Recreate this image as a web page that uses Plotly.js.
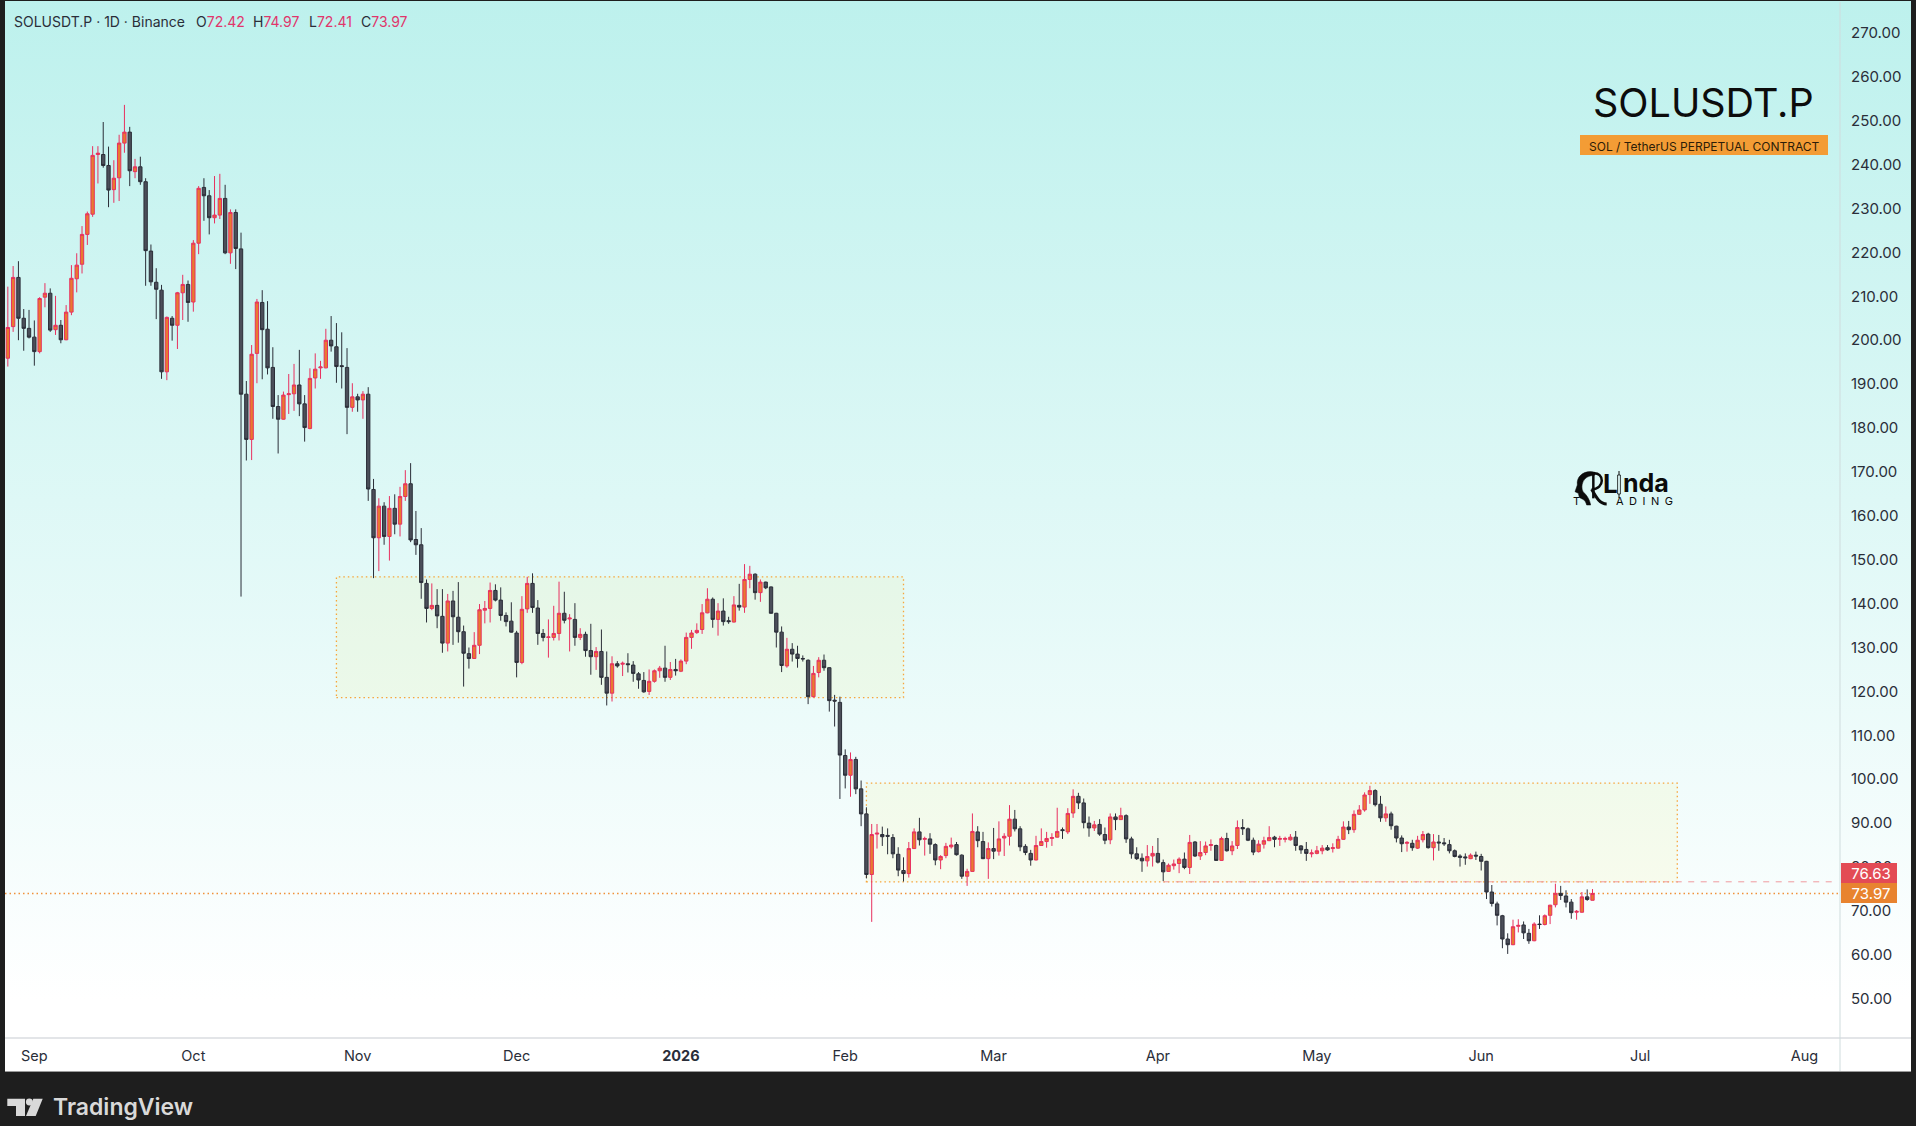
<!DOCTYPE html>
<html>
<head>
<meta charset="utf-8">
<title>SOLUSDT.P</title>
<script src="https://cdn.plot.ly/plotly-3.0.1.min.js"></script>
<style>
  html, body { margin: 0; padding: 0; background: #1e1e1e; overflow: hidden; }
  #panel { position: absolute; left: 5px; top: 1px; width: 1906px; height: 1070px;
           background: linear-gradient(to bottom, #bdf1ed 0px, #ffffff 1000px, #ffffff 1070px);
           border-bottom: 1px solid #9a9a9a; box-sizing: content-box; }
  #chart { position: absolute; left: 0; top: 0; width: 1916px; height: 1126px; }
</style>
</head>
<body>
<div id="panel"></div>
<div id="chart"></div>
<script>
// daily candles, first one is 2025-08-27
var firstDay = Date.UTC(2025, 7, 27);

var opens = [
195.9,203.1,214.3,205.0,202.7,200.7,197.4,209.8,210.7,202.4,
203.4,200.1,206.4,214.0,217.3,224.1,228.7,242.3,242.3,239.8,
234.3,237.0,244.9,247.4,238.4,239.5,236.1,220.3,213.2,211.4,
192.8,205.0,203.4,210.8,212.7,208.7,222.1,234.8,232.9,227.9,
228.5,232.3,219.9,229.1,220.8,187.7,177.4,197.0,208.6,202.5,
193.8,184.9,182.0,187.6,187.8,189.8,185.5,179.9,191.4,193.7,
193.7,200.0,198.5,194.2,193.8,184.7,187.1,186.4,187.7,166.0,
155.0,162.2,155.3,161.7,158.1,164.4,167.3,154.6,153.4,144.6,
138.9,139.6,137.1,131.0,140.6,136.9,133.6,128.6,127.5,130.5,
138.5,138.9,143.0,140.8,137.3,136.0,133.3,126.6,138.8,144.6,
139.0,133.2,132.3,132.3,133.2,137.8,136.5,136.4,132.3,133.0,
129.3,127.9,129.1,123.2,119.6,126.3,126.2,126.3,126.0,124.0,
122.5,120.0,122.3,124.7,125.3,123.2,125.0,124.6,126.9,132.3,
133.4,134.1,137.9,141.0,136.4,138.3,136.1,135.8,139.6,139.2,
145.5,146.7,142.5,144.9,143.8,137.8,133.5,125.8,129.6,128.5,
127.5,127.1,118.8,124.3,127.1,125.4,118.0,117.5,105.4,100.9,
104.5,97.8,92.1,78.3,87.5,87.4,87.2,86.7,82.9,79.2,
78.5,84.2,88.0,86.3,86.4,85.1,81.6,82.6,84.6,85.1,
82.7,77.9,79.0,88.0,85.8,81.9,84.2,83.6,86.6,87.0,
90.9,88.7,84.7,83.1,81.6,84.9,85.8,86.5,86.8,88.5,
88.0,92.3,96.1,94.6,90.0,88.9,89.7,87.4,86.2,91.4,
90.8,91.7,86.4,83.0,82.0,81.4,82.5,83.1,81.0,79.0,
80.3,80.8,81.8,79.9,85.7,82.5,83.3,84.9,84.9,81.5,
86.5,83.7,84.9,89.0,88.7,86.1,83.5,85.2,86.0,86.8,
86.3,86.3,86.2,86.8,84.8,84.0,83.0,83.1,83.7,84.4,
84.2,84.3,86.3,89.1,88.5,92.0,93.0,96.5,97.4,94.3,
91.2,92.1,89.3,86.6,85.4,85.4,84.3,86.2,87.5,84.4,
85.7,85.5,85.1,83.7,82.5,82.3,81.9,82.7,82.4,81.3,
74.3,71.6,68.9,63.6,62.3,66.5,66.8,64.9,63.2,67.0,
66.9,69.0,71.4,74.0,73.4,72.0,69.7,69.7,73.2,72.42];

var highs = [
212.2,216.9,218.0,207.1,206.9,204.5,209.8,213.0,211.8,210.1,
204.6,208.0,217.1,219.8,226.0,229.3,244.2,244.2,249.7,244.1,
241.0,246.8,253.6,248.6,241.3,241.8,236.9,221.8,216.4,212.6,
205.4,205.5,211.0,214.9,213.6,222.8,235.1,236.9,234.2,237.4,
237.9,235.4,229.8,229.8,224.5,190.7,198.9,209.4,211.4,208.9,
198.4,187.5,188.3,192.3,194.6,197.8,187.5,193.6,197.0,195.3,
202.6,205.5,203.9,201.8,198.2,190.2,187.8,188.4,189.3,168.4,
164.0,163.1,164.5,164.9,166.6,170.4,172.0,161.1,157.2,145.5,
144.6,143.3,143.3,142.2,142.9,144.9,135.0,130.0,133.5,139.9,
140.6,144.8,144.4,143.7,138.0,140.3,133.8,141.7,146.1,146.9,
140.8,134.2,136.4,139.5,145.0,142.7,137.6,140.1,134.4,133.6,
135.4,130.1,134.1,129.1,128.0,126.9,126.8,128.7,126.9,124.4,
124.4,125.0,125.0,125.8,130.4,126.7,127.4,127.3,133.4,134.0,
135.5,139.9,143.5,141.4,140.1,141.2,137.0,141.7,144.5,149.0,
148.6,146.9,145.5,145.0,143.9,137.9,134.8,132.2,131.0,130.4,
128.2,127.3,125.8,127.8,128.4,125.5,119.2,118.8,106.8,106.1,
105.1,99.7,93.6,89.8,89.8,89.2,88.8,87.5,84.5,82.2,
85.7,88.8,91.2,86.9,87.7,85.4,82.7,85.5,86.7,85.7,
82.9,79.6,92.2,89.3,88.0,85.6,88.9,90.4,87.7,94.1,
93.0,89.3,85.2,83.9,87.1,88.8,88.0,87.7,93.5,89.0,
93.4,97.7,96.9,95.6,91.5,90.5,90.9,89.0,92.2,92.2,
93.5,92.0,86.9,84.5,83.1,85.0,84.8,86.6,81.7,80.8,
81.7,82.2,83.3,87.3,85.9,85.9,85.8,86.3,85.1,86.9,
87.8,85.9,90.6,90.9,89.0,86.7,86.1,86.9,89.3,87.1,
87.1,86.9,87.5,88.2,85.0,85.7,84.0,84.8,85.0,85.0,
85.4,87.1,90.4,90.5,92.9,94.1,97.0,98.5,97.7,96.2,
93.8,92.6,89.4,87.2,85.9,86.2,87.1,88.2,87.8,87.5,
87.3,86.6,86.2,84.0,82.9,83.1,83.1,83.5,83.0,81.4,
75.9,72.1,69.1,64.9,68.0,68.1,67.6,65.9,67.4,69.0,
69.2,71.4,76.2,75.7,74.7,72.7,70.2,74.3,74.9,74.97];

var lows = [
194.0,201.9,200.0,197.6,200.4,194.2,197.0,207.5,201.9,201.2,
199.3,200.0,205.7,210.9,215.2,221.7,228.1,235.7,239.3,230.3,
231.3,231.7,242.7,235.1,236.9,235.4,212.4,212.4,204.8,191.2,
190.9,199.9,198.0,204.6,204.2,206.5,219.6,227.2,224.1,226.6,
227.6,219.6,217.4,216.2,141.6,172.6,172.7,190.2,191.1,192.2,
182.1,174.2,181.9,183.2,183.9,182.7,176.9,179.7,189.0,191.2,
193.6,197.4,190.3,189.0,178.6,183.7,183.7,182.1,163.4,145.8,
147.4,153.4,149.8,155.8,155.3,163.4,154.0,151.1,141.1,135.7,
138.5,134.4,128.8,129.1,130.6,131.1,121.1,125.2,127.4,128.5,
135.5,135.7,140.5,136.1,134.8,133.4,123.2,126.2,137.9,137.9,
130.6,131.4,127.7,131.6,131.6,135.5,129.1,130.4,131.7,127.9,
123.8,124.9,121.5,116.8,117.7,125.4,123.5,124.3,122.2,120.6,
119.7,119.2,122.0,123.1,122.2,122.6,123.6,124.4,126.2,129.7,
133.1,133.1,137.8,134.5,132.7,135.0,135.4,135.7,138.4,137.9,
143.5,140.9,140.4,143.3,137.7,130.0,124.4,125.4,126.8,125.4,
126.8,117.1,118.6,123.2,124.7,115.4,112.0,95.5,97.9,96.0,
96.6,89.3,77.4,67.5,84.2,84.8,82.9,82.0,77.9,76.7,
77.6,84.1,84.9,82.6,83.0,80.4,79.5,82.0,84.2,82.6,
77.3,75.7,78.9,84.5,81.8,77.3,81.8,82.6,82.5,84.9,
88.1,83.6,82.7,80.3,81.5,84.8,84.4,84.8,86.7,86.4,
87.5,91.2,93.2,88.8,86.9,88.2,87.1,85.2,85.2,88.4,
90.7,85.5,81.9,81.6,78.9,80.1,80.1,80.8,76.8,78.9,
79.4,78.6,79.5,78.4,82.3,81.6,82.7,83.7,81.4,81.4,
83.5,82.7,84.1,87.3,85.9,82.7,83.3,84.2,85.9,84.5,
84.8,85.6,86.0,83.7,83.0,81.4,82.2,82.9,82.9,83.7,
83.3,84.2,86.2,87.5,87.8,91.9,92.6,94.4,93.8,90.3,
90.3,88.5,85.6,83.4,83.5,83.7,84.1,85.6,84.2,81.5,
83.7,84.8,83.1,82.2,80.1,80.5,81.8,81.6,79.2,72.7,
71.0,66.7,61.5,60.2,62.2,65.1,63.6,62.5,63.1,65.9,
66.7,67.0,70.8,72.5,70.8,68.2,68.0,69.6,72.3,72.41];

var closes = [
202.9,214.3,205.0,202.7,200.7,197.4,209.5,210.7,202.3,203.4,
200.1,206.4,214.1,217.1,224.1,228.8,242.1,242.6,239.8,234.2,
236.9,244.9,247.4,238.6,239.5,236.1,220.4,213.3,211.6,192.8,
205.2,203.4,210.8,212.7,208.6,222.1,234.6,232.9,227.9,228.5,
232.3,219.9,229.1,220.9,187.7,177.4,196.8,208.7,202.4,193.7,
184.9,182.0,187.5,187.8,189.8,185.5,180.1,191.3,193.4,193.9,
200.0,198.7,194.0,194.0,184.7,187.1,186.4,187.7,166.1,155.0,
162.2,155.3,161.7,158.1,164.4,167.3,154.5,153.4,144.8,138.9,
139.6,137.2,131.0,140.6,137.0,133.6,128.7,127.5,130.5,138.6,
138.9,143.0,140.8,137.3,135.9,133.5,126.6,138.7,144.6,139.1,
133.2,132.3,132.4,133.2,137.8,136.2,136.7,132.3,133.0,129.3,
127.9,129.1,123.2,119.6,126.3,125.8,126.4,126.1,124.1,122.6,
119.9,122.3,124.7,125.3,123.2,125.0,124.7,126.9,132.3,133.3,
133.9,137.9,141.0,136.4,138.3,135.9,135.9,139.7,139.2,145.5,
146.7,142.5,144.9,143.6,137.8,133.5,125.9,129.6,128.5,127.5,
127.4,118.8,124.1,127.1,125.4,117.9,117.8,105.5,100.9,104.5,
97.8,92.1,78.3,87.4,87.7,86.9,87.0,83.0,79.3,78.5,
84.2,88.0,86.2,86.5,85.2,81.6,82.4,84.7,85.0,82.8,
77.9,79.0,88.1,86.0,81.9,84.2,83.6,86.4,87.0,90.9,
88.7,84.6,83.3,81.6,84.9,85.8,86.5,86.7,88.1,88.3,
92.2,96.1,94.6,90.1,88.9,89.6,87.5,86.1,91.4,90.8,
91.7,86.4,83.0,81.9,81.4,82.4,83.1,81.1,78.9,80.4,
80.7,81.8,79.9,85.6,82.5,83.3,84.8,85.1,81.5,86.5,
83.7,84.8,89.0,88.7,86.1,83.4,85.2,86.0,86.7,86.3,
86.5,86.5,86.8,84.9,83.9,83.1,83.2,83.7,84.3,83.9,
84.4,86.3,89.1,88.5,92.0,93.0,96.4,97.4,94.2,91.2,
92.1,89.4,86.6,85.3,85.6,84.4,86.1,87.4,84.4,85.7,
85.5,85.3,83.7,82.4,82.2,82.1,82.7,82.5,81.3,74.3,
71.7,69.0,63.6,62.3,66.4,66.7,65.0,63.2,67.0,66.9,
68.9,71.3,74.0,73.5,72.0,69.6,69.9,73.2,72.6,73.97];

var monthTicks = ['2025-09-01','2025-10-01','2025-11-01','2025-12-01','2026-01-01','2026-02-01','2026-03-01','2026-04-01','2026-05-01','2026-06-01','2026-07-01','2026-08-01'];
var monthLabels = ['Sep','Oct','Nov','Dec','<b>2026</b>','Feb','Mar','Apr','May','Jun','Jul','Aug'];
var priceTicks = [50,60,70,80,90,100,110,120,130,140,150,160,170,180,190,200,210,220,230,240,250,260,270];

var lastClose = 73.97;
var resistance = 76.63;
var box1 = ['2025-10-28','2026-02-12',118.6,146.1];
var box2 = ['2026-02-05','2026-07-08',resistance,99.1];

var dates = [];
for (var i = 0; i < opens.length; i++) {
    dates.push(new Date(firstDay + i * 86400000).toISOString().slice(0, 10));
}

var font = 'Inter, "Liberation Sans", sans-serif';
var ink = '#2a2e39';
var pink = '#e0356b';
var dots = '1.5px,3px';

// pixel position on the page to paper fraction
function xp(x) { return (x - 5) / 1835; }
function yp(y) { return (1038 - y) / 1036; }

function label(x, y, text, size, color, extra) {
    var a = { xref: 'paper', yref: 'paper', x: xp(x), y: yp(y), text: text, showarrow: false,
              xanchor: 'left', yanchor: 'middle', font: { family: font, size: size, color: color } };
    for (var k in extra) { a[k] = extra[k]; }
    return a;
}

function solid(points, color, width, fill) {
    var d = '';
    for (var i = 0; i < points.length; i++) {
        var p = points[i];
        if (p.length == 6) {
            d += ' C ' + xp(p[0]) + ',' + yp(p[1]) + ' ' + xp(p[2]) + ',' + yp(p[3]) + ' ' + xp(p[4]) + ',' + yp(p[5]);
        } else {
            d += (i == 0 ? 'M ' : ' L ') + xp(p[0]) + ',' + yp(p[1]);
        }
    }
    if (fill) { d += ' Z'; }
    return { type: 'path', xref: 'paper', yref: 'paper', path: d, layer: 'above',
             fillcolor: fill || 'rgba(0,0,0,0)', line: { color: color, width: width } };
}

// Linda logo, coordinates are page pixels
function lx(z) { return 1540 + z / 3; }
function ly(z) { return 440 + z / 3; }
var head = solid([[lx(165),ly(97)],
    [lx(135),ly(88),lx(108),ly(108),lx(112),ly(135)],
    [lx(105),ly(155)],[lx(115),ly(160)],[lx(118),ly(172)],
    [lx(125),ly(178),lx(135),ly(176),lx(140),ly(195)],
    [lx(152),ly(195)],
    [lx(150),ly(180),lx(140),ly(165),lx(132),ly(158)],
    [lx(122),ly(150),lx(122),ly(115),lx(150),ly(108)],
    [lx(165),ly(105)]], '#0b0b0b', 0.5, '#0b0b0b');
var rBowl = solid([[lx(158),ly(100)],
    [lx(195),ly(95),lx(195),ly(148),lx(155),ly(148)]], '#0b0b0b', 2.5);
var rStem = solid([[lx(160),ly(100)],[lx(160),ly(175)]], '#0b0b0b', 2.5);
var rLeg = solid([[lx(155),ly(148)],
    [lx(170),ly(175),lx(180),ly(192),lx(200),ly(192)]], '#0b0b0b', 3);
var logoWick = solid([[1619,471],[1619,498]], '#0b0b0b', 1);
var logoBody = solid([[1617.6,475],[1620.4,475],[1620.4,494],[1617.6,494]], '#0b0b0b', 0.8, '#dff7f6');

var shapes = [
    { type: 'rect', xref: 'x', yref: 'y', x0: box1[0], x1: box1[1], y0: box1[2], y1: box1[3], layer: 'below',
      fillcolor: 'rgba(245,240,125,0.12)', line: { color: '#f7a53a', width: 1.3, dash: dots } },
    { type: 'rect', xref: 'x', yref: 'y', x0: box2[0], x1: box2[1], y0: box2[2], y1: box2[3], layer: 'below',
      fillcolor: 'rgba(245,240,125,0.12)', line: { color: '#f7a53a', width: 1.3, dash: dots } },
    { type: 'line', xref: 'paper', yref: 'y', x0: 0, x1: 1, y0: lastClose, y1: lastClose, layer: 'below',
      line: { color: '#f0913a', width: 1.3, dash: dots } },
    { type: 'line', xref: 'x', yref: 'y', x0: '2026-04-02', x1: '2026-08-07', y0: resistance, y1: resistance, layer: 'below',
      line: { color: '#ef9a9f', width: 1, dash: '6px,6.5px' } },
    { type: 'line', xref: 'paper', yref: 'paper', x0: 0, x1: xp(1911), y0: 0, y1: 0, layer: 'above',
      line: { color: '#e3e5e8', width: 2 } },
    { type: 'line', xref: 'paper', yref: 'paper', x0: 1, x1: 1, y0: yp(1071), y1: 1, layer: 'above',
      line: { color: '#cfdcdd', width: 1 } },
    { type: 'rect', xref: 'paper', yref: 'paper', x0: xp(1580), x1: xp(1828), y0: yp(155), y1: yp(135), layer: 'above',
      fillcolor: '#f39c35', line: { width: 0 } },
    // price tags on the axis
    { type: 'rect', xref: 'paper', yref: 'paper', x0: xp(1841), x1: xp(1897), y0: yp(883), y1: yp(863), layer: 'above',
      fillcolor: '#e34b55', line: { width: 0 } },
    { type: 'rect', xref: 'paper', yref: 'paper', x0: xp(1841), x1: xp(1897), y0: yp(903), y1: yp(883), layer: 'above',
      fillcolor: '#e8832f', line: { width: 0 } },
    head, rBowl, rStem, rLeg, logoWick, logoBody,
    // TradingView mark
    solid([[7.3,1098.7],[25,1098.7],[25,1116],[16,1116],[16,1106],[7.3,1106]], '#d9d9d9', 0, '#d9d9d9'),
    solid([[33.3,1098.7],[42.7,1098.7],[35.7,1116],[26,1116]], '#d9d9d9', 0, '#d9d9d9'),
    { type: 'circle', xref: 'paper', yref: 'paper', x0: xp(25.9), x1: xp(32.7), y0: yp(1105.4), y1: yp(1098.6), layer: 'above',
      fillcolor: '#d9d9d9', line: { width: 0 } }
];

var annotations = [
    label(12, 22, 'SOLUSDT.P · 1D · Binance', 14, ink),
    label(193.5, 22, 'O<span style="color:' + pink + '">72.42</span>', 14, ink),
    label(251, 22, 'H<span style="color:' + pink + '">74.97</span>', 14, ink),
    label(306.5, 22, 'L<span style="color:' + pink + '">72.41</span>', 14, ink),
    label(358.5, 22, 'C<span style="color:' + pink + '">73.97</span>', 14, ink),
    label(1590.5, 103, 'SOLUSDT.P', 39.5, '#0c0c0c'),
    label(1586.5, 146, 'SOL / TetherUS PERPETUAL CONTRACT', 12, '#2c1d08'),
    label(1841, 873, '76.63', 15, '#ffffff', { width: 56, align: 'center' }),
    label(1841, 893, '73.97', 15, '#ffffff', { width: 56, align: 'center' }),
    label(1601, 483, '<b>L</b>', 26, '#0b0b0b'),
    label(1620.5, 483, '<b>nda</b>', 25, '#0b0b0b'),
    label(1571, 501, 'T', 11, '#0b0b0b'),
    label(1614, 501, 'A\u2002D\u2002I\u2002N\u2002G', 11, '#0b0b0b'),
    label(51, 1107, 'TradingView', 23, '#d9d9d9', { font: { family: font, size: 23, color: '#d9d9d9', weight: 600 } })
];

var data = [{
    type: 'candlestick',
    x: dates,
    open: opens,
    high: highs,
    low: lows,
    close: closes,
    whiskerwidth: 0,
    hoverinfo: 'none',
    increasing: { fillcolor: '#e87a30', line: { color: '#e8305f', width: 1 } },
    decreasing: { fillcolor: '#4b4e59', line: { color: '#2b2e38', width: 1 } }
}];

var layout = {
    width: 1916,
    height: 1126,
    margin: { l: 5, r: 76, t: 2, b: 88 },
    paper_bgcolor: 'rgba(0,0,0,0)',
    plot_bgcolor: 'rgba(0,0,0,0)',
    showlegend: false,
    boxgap: 0.1,
    dragmode: false,
    font: { family: font, size: 14.5, color: ink },
    xaxis: {
        type: 'date',
        range: ['2025-08-26 11:10', '2026-08-07 16:48'],
        rangeslider: { visible: false },
        tickmode: 'array',
        tickvals: monthTicks,
        ticktext: monthLabels,
        showgrid: false,
        zeroline: false,
        ticks: '',
        ticklabelstandoff: 7
    },
    yaxis: {
        side: 'right',
        range: [41.05, 277.04],
        tickmode: 'array',
        tickvals: priceTicks,
        tickformat: '.2f',
        tickfont: { family: font, size: 15, color: ink },
        showgrid: false,
        zeroline: false,
        ticks: '',
        ticklabelstandoff: 10
    },
    shapes: shapes,
    annotations: annotations
};

Plotly.newPlot('chart', data, layout, { displayModeBar: false, staticPlot: true });
</script>
</body>
</html>
